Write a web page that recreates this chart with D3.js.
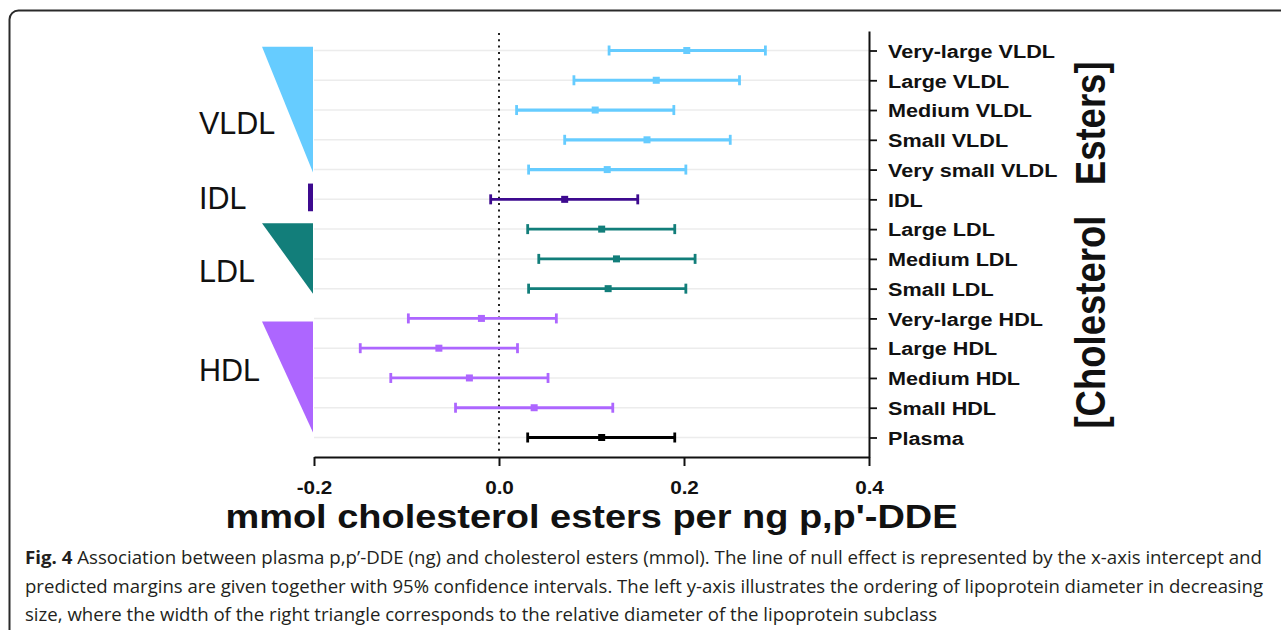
<!DOCTYPE html>
<head>
  <meta charset="utf-8">
  <title>Cholesterol esters</title>
  <script src="https://d3js.org/d3.v7.min.js"></script>
  <style>
    body { margin: 0; background: #fff; }
    text { font-family: "Liberation Sans", Arial, sans-serif; }
    .caption text { font-family: "Open Sans", sans-serif; fill: #231f20; }
  </style>
</head>

<body>
  <script>
    // rows, top to bottom
    var rows = ["Very-large VLDL", "Large VLDL", "Medium VLDL", "Small VLDL", "Very small VLDL",
                "IDL", "Large LDL", "Medium LDL", "Small LDL",
                "Very-large HDL", "Large HDL", "Medium HDL", "Small HDL", "Plasma"];
    var rowGroup = ["VLDL", "VLDL", "VLDL", "VLDL", "VLDL", "IDL", "LDL", "LDL", "LDL",
                    "HDL", "HDL", "HDL", "HDL", "Plasma"];
    var estimate = [0.203, 0.170, 0.104, 0.160, 0.117, 0.071, 0.111, 0.127, 0.118,
                    -0.019, -0.065, -0.032, 0.038, 0.111];
    var lower = [0.119, 0.081, 0.019, 0.071, 0.032, -0.009, 0.031, 0.043, 0.032,
                 -0.098, -0.150, -0.117, -0.047, 0.031];
    var upper = [0.288, 0.260, 0.189, 0.250, 0.202, 0.150, 0.190, 0.212, 0.202,
                 0.062, 0.020, 0.053, 0.123, 0.190];

    var groupNames = ["VLDL", "IDL", "LDL", "HDL", "Plasma"];
    var groupColors = ["#66ccff", "#3d0a8f", "#127e7a", "#ad66ff", "#000000"];

    // left-hand size markers, spans given in row units
    var sideGroups = ["VLDL", "IDL", "LDL", "HDL"];
    var sideSpan = [[-0.13, 4.1], [4.47, 5.4], [5.8, 8.17], [9.1, 12.83]];
    var sideTopWidth = [51, 5, 51, 51];
    var sideBottomWidth = [0, 5, 0, 0];
    var sideLabelRow = [2.45, 4.96, 7.4, 10.75];

    var xTicks = [-0.2, 0, 0.2, 0.4];
    var xTickLabels = ["-0.2", "0.0", "0.2", "0.4"];
    var xTitle = "mmol cholesterol esters per ng p,p'-DDE";
    var yTitle = "[Cholesterol\u00a0\u00a0 Esters]";

    var captionLines = [
      " Association between plasma p,p’-DDE (ng) and cholesterol esters (mmol). The line of null effect is represented by the x-axis intercept and",
      "predicted margins are given together with 95% confidence intervals. The left y-axis illustrates the ordering of lipoprotein diameter in decreasing",
      "size, where the width of the right triangle corresponds to the relative diameter of the lipoprotein subclass"
    ];
    var captionWidths = [1237, 1238, 912];

    var width = 1281, height = 630, SX = 1.15;

    var svg = d3.select("body").append("svg")
      .attr("width", width)
      .attr("height", height);

    // frame
    svg.append("rect")
      .attr("x", 9.5).attr("y", 10.5)
      .attr("width", 1300).attr("height", 660)
      .attr("rx", 9)
      .attr("fill", "none")
      .attr("stroke", "#2a2a2a")
      .attr("stroke-width", 2);

    var x = d3.scaleLinear().domain([-0.2, 0.4]).range([314, 869]);
    var y = d3.scalePoint().domain(rows).range([31, 457]).padding(0.655);
    var yr = d3.scaleLinear().domain([0, rows.length - 1])
      .range([y(rows[0]), y(rows[rows.length - 1])]);
    var color = d3.scaleOrdinal().domain(groupNames).range(groupColors);

    // grid
    svg.append("g").selectAll("line")
      .data(rows)
      .enter().append("line")
        .attr("x1", x.range()[0]).attr("x2", x.range()[1])
        .attr("y1", function (d) { return y(d); })
        .attr("y2", function (d) { return y(d); })
        .attr("stroke", "#ececec")
        .attr("stroke-width", 1.5);

    // null effect
    svg.append("line")
      .attr("x1", x(0)).attr("x2", x(0))
      .attr("y1", y.range()[0] + 2).attr("y2", y.range()[1] - 4)
      .attr("stroke", "#222")
      .attr("stroke-width", 2)
      .attr("stroke-dasharray", "2,4.3");

    // size markers on the left
    var side = svg.append("g");
    side.selectAll("path")
      .data(sideGroups)
      .enter().append("path")
        .attr("fill", function (d) { return color(d); })
        .attr("d", function (d, i) {
          var x0 = x.range()[0] - 1,
              top = yr(sideSpan[i][0]),
              bottom = yr(sideSpan[i][1]);
          return "M" + (x0 - sideTopWidth[i]) + "," + top
            + "L" + x0 + "," + top
            + "L" + x0 + "," + bottom
            + "L" + (x0 - sideBottomWidth[i]) + "," + bottom + "Z";
        });
    side.selectAll("text")
      .data(sideGroups)
      .enter().append("text")
        .attr("x", 199)
        .attr("y", function (d, i) { return yr(sideLabelRow[i]); })
        .attr("dy", "0.36em")
        .attr("font-size", "30.5px")
        .attr("fill", "#111")
        .text(function (d) { return d; });

    // error bars
    var bars = svg.append("g").selectAll("g")
      .data(rows)
      .enter().append("g")
        .attr("transform", function (d) { return "translate(0," + y(d) + ")"; })
        .attr("stroke", function (d, i) { return color(rowGroup[i]); })
        .attr("fill", function (d, i) { return color(rowGroup[i]); });

    bars.append("line")
      .attr("x1", function (d, i) { return x(lower[i]); })
      .attr("x2", function (d, i) { return x(upper[i]); })
      .attr("stroke-width", function (d, i) { return rowGroup[i] === "VLDL" ? 3.2 : 2.8; });
    bars.selectAll(".cap")
      .data(function (d, i) { return [lower[i], upper[i]]; })
      .enter().append("line")
        .attr("class", "cap")
        .attr("x1", function (v) { return x(v); })
        .attr("x2", function (v) { return x(v); })
        .attr("y1", -5).attr("y2", 5)
        .attr("stroke-width", 2.8);
    bars.append("rect")
      .attr("x", function (d, i) { return x(estimate[i]) - 3.5; })
      .attr("y", -3.5)
      .attr("width", 7).attr("height", 7)
      .attr("stroke", "none");

    // axes
    var yAxis = d3.axisRight(y).tickSize(8).tickSizeOuter(0);
    var gy = svg.append("g")
      .attr("transform", "translate(" + x.range()[1] + ",0)")
      .call(yAxis);
    gy.select(".domain").attr("stroke", "#111").attr("stroke-width", 2);
    gy.selectAll(".tick line").attr("stroke", "#111").attr("stroke-width", 1.8);
    gy.selectAll(".tick text")
      .attr("x", null).attr("dy", "0.36em")
      .attr("transform", "translate(19,0) scale(" + SX + ",1)")
      .attr("font-family", "Liberation Sans, Arial, sans-serif")
      .attr("font-weight", "bold")
      .attr("font-size", "18.8px")
      .attr("fill", "#111");

    var xAxis = d3.axisBottom(x).tickValues(xTicks).tickSize(9).tickSizeOuter(0)
      .tickFormat(function (d, i) { return xTickLabels[i]; });
    var gx = svg.append("g")
      .attr("transform", "translate(0," + y.range()[1] + ")")
      .call(xAxis);
    gx.select(".domain").attr("stroke", "#111").attr("stroke-width", 2);
    gx.selectAll(".tick line").attr("stroke", "#111").attr("stroke-width", 2);
    gx.selectAll(".tick text")
      .attr("y", null).attr("dy", null)
      .attr("transform", "translate(0,37) scale(" + SX + ",1)")
      .attr("font-family", "Liberation Sans, Arial, sans-serif")
      .attr("font-weight", "bold")
      .attr("font-size", "18px")
      .attr("fill", "#111");

    svg.append("text")
      .attr("transform", "translate(" + d3.mean(x.range()) + ",528) scale(" + SX + ",1)")
      .attr("text-anchor", "middle")
      .attr("font-weight", "bold")
      .attr("font-size", "33px")
      .attr("fill", "#111")
      .text(xTitle);

    svg.append("text")
      .attr("transform", "translate(1105,245) scale(" + SX + ",1) rotate(-90)")
      .attr("text-anchor", "middle")
      .attr("font-weight", "bold")
      .attr("font-size", "36.5px")
      .attr("fill", "#111")
      .text(yTitle);

    // caption
    var cap = svg.append("g").attr("class", "caption");
    cap.selectAll("text")
      .data(captionLines)
      .enter().append("text")
        .attr("x", 25)
        .attr("y", function (d, i) { return 564 + i * 28.7; })
        .attr("font-size", "17.5px")
        .attr("textLength", function (d, i) { return captionWidths[i]; })
        .attr("lengthAdjust", "spacingAndGlyphs")
        .each(function (d, i) {
          var t = d3.select(this);
          if (i === 0) {
            t.append("tspan").attr("font-weight", "bold").text("Fig. 4");
          }
          t.append("tspan").text(d);
        });
  </script>
</body>
